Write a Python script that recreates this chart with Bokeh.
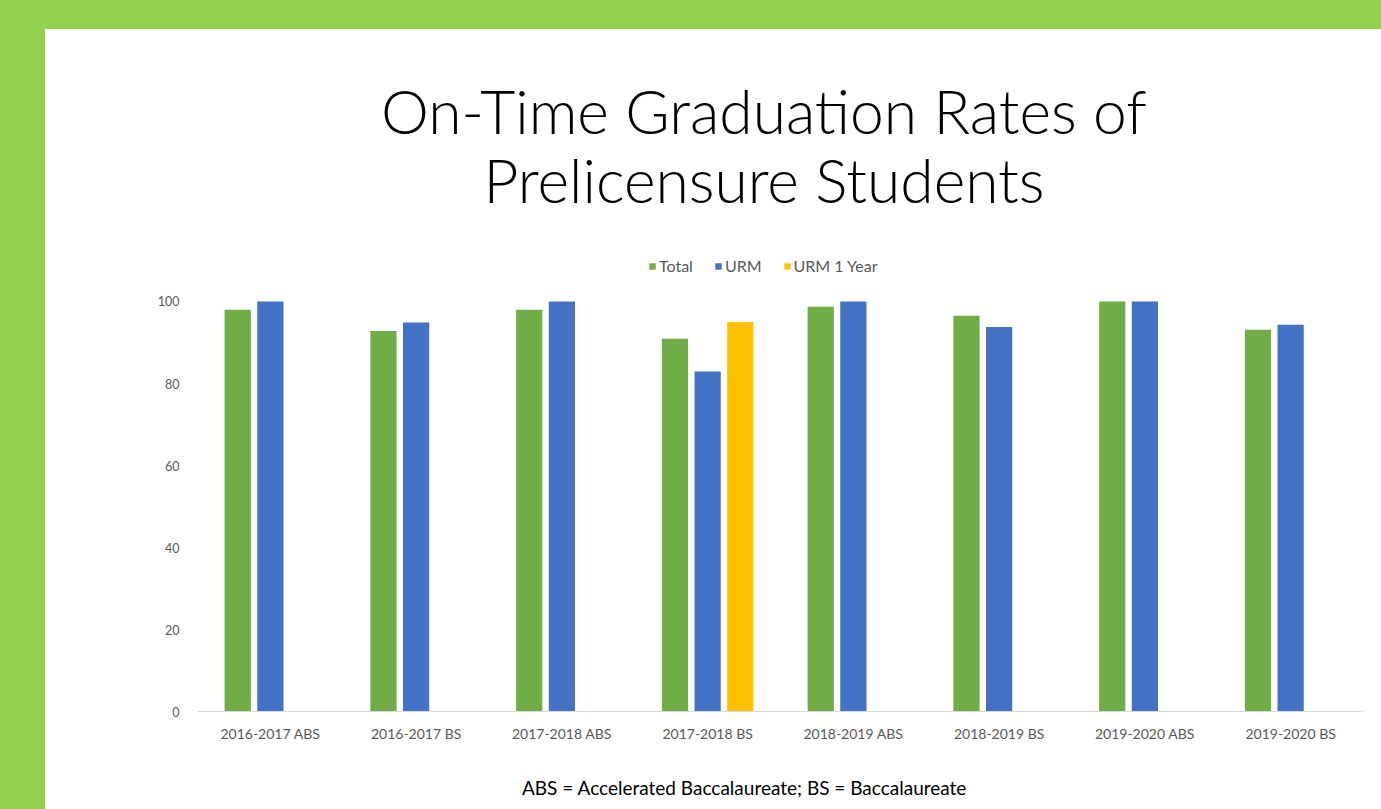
from bokeh.plotting import figure
from bokeh.models import (FactorRange, Range1d, FixedTicker, Legend, LegendItem,
                          Label, Spacer, ColumnDataSource)
from bokeh.transform import dodge
from bokeh.layouts import row, column
from bokeh.embed import file_html
from bokeh.resources import INLINE

# ---------------- data ----------------
categories = ["2016-2017 ABS", "2016-2017 BS", "2017-2018 ABS", "2017-2018 BS",
              "2018-2019 ABS", "2018-2019 BS", "2019-2020 ABS", "2019-2020 BS"]
total = [98.0, 92.8, 98.0, 90.9, 98.7, 96.5, 100.0, 93.1]
urm = [100.0, 94.9, 100.0, 82.9, 100.0, 93.8, 100.0, 94.3]
urm_1_year = [None, None, None, 95.0, None, None, None, None]
series_names = ["Total", "URM", "URM 1 Year"]
y_ticks = [0, 20, 40, 60, 80, 100]

title_line1 = "On-Time Graduation Rates of"
title_line2 = "Prelicensure Students"
footnote = "ABS = Accelerated Baccalaureate; BS = Baccalaureate"

# ---------------- style ----------------
FONT = "Lato"
TITLE_FONT = "'Lato Light', Lato"
GREEN = "#70AD47"
BLUE = "#4472C4"
YELLOW = "#FFC000"
TEXT_GRAY = "#595959"
BG_GREEN = "#92D050"

# The (invisible) plotting frame covers the whole white panel height; the
# category axis is pinned at y=0 so titles and footnote sit inside the frame.
Y_TOP = 166.34
Y_BOTTOM = -23.9

p = figure(width=1336, height=780,
           x_range=FactorRange(*categories), y_range=Range1d(Y_BOTTOM, Y_TOP),
           output_backend="svg", toolbar_location=None,
           min_border_left=152, min_border_right=18,
           min_border_top=0, min_border_bottom=0,
           outline_line_color=None,
           background_fill_color="white", border_fill_color="white")
p.x_range.range_padding = 0
p.xgrid.grid_line_color = None
p.ygrid.grid_line_color = None

src_total = ColumnDataSource(dict(cat=categories, val=total))
src_urm = ColumnDataSource(dict(cat=categories, val=urm))
u1_cats = [c for c, v in zip(categories, urm_1_year) if v is not None]
u1_vals = [v for v in urm_1_year if v is not None]
src_u1 = ColumnDataSource(dict(cat=u1_cats, val=u1_vals))

W = 0.18
D = 0.224
r1 = p.vbar(x=dodge("cat", -D, range=p.x_range), top="val", bottom=0, width=W,
            source=src_total, fill_color=GREEN, line_color=None)
r2 = p.vbar(x=dodge("cat", 0.0, range=p.x_range), top="val", bottom=0, width=W,
            source=src_urm, fill_color=BLUE, line_color=None)
r3 = p.vbar(x=dodge("cat", D, range=p.x_range), top="val", bottom=0, width=W,
            source=src_u1, fill_color=YELLOW, line_color=None)

# axes
p.yaxis.ticker = FixedTicker(ticks=y_ticks)
p.yaxis.axis_line_color = None
p.yaxis.major_tick_line_color = None
p.yaxis.minor_tick_line_color = None
p.yaxis.major_tick_out = 0
p.yaxis.major_label_standoff = 18
p.yaxis.major_label_text_font = FONT
p.yaxis.major_label_text_font_size = "12.5px"
p.yaxis.major_label_text_color = TEXT_GRAY

p.xaxis.fixed_location = 0
p.xaxis.axis_line_color = "#D9D9D9"
p.xaxis.axis_line_width = 1
p.xaxis.major_tick_line_color = None
p.xaxis.minor_tick_line_color = None
p.xaxis.major_tick_out = 0
p.xaxis.major_label_standoff = 13
p.xaxis.major_label_text_font = FONT
p.xaxis.major_label_text_font_size = "14px"
p.xaxis.major_label_text_color = TEXT_GRAY

# legend
legend = Legend(items=[LegendItem(label=series_names[0], renderers=[r1]),
                       LegendItem(label=series_names[1], renderers=[r2]),
                       LegendItem(label=series_names[2], renderers=[r3])],
                orientation="horizontal", location=(451, 534),
                border_line_color=None, background_fill_alpha=0,
                padding=0, margin=0, spacing=21,
                glyph_width=8, glyph_height=8, label_standoff=3,
                label_height=16,
                label_text_font=FONT, label_text_font_size="16px",
                label_text_color=TEXT_GRAY)
p.add_layout(legend, "center")

# title lines (centred a little left of the frame centre, as in the slide)
TITLE_X = 3.887
p.add_layout(Label(x=TITLE_X, y=146.6, text=title_line1, text_align="center",
                   text_baseline="alphabetic", text_font=TITLE_FONT,
                   text_font_size="60.5px", text_color="#000000"))
p.add_layout(Label(x=TITLE_X, y=129.8, text=title_line2, text_align="center",
                   text_baseline="alphabetic", text_font=TITLE_FONT,
                   text_font_size="60.5px", text_color="#000000"))

# footnote below the category labels
p.add_layout(Label(x=3.753, y=-18.5, text=footnote, text_align="center",
                   text_baseline="middle", text_font=FONT,
                   text_font_size="19px", text_color="#000000"))

layout = column(Spacer(height=29, width=1381, styles={"background-color": BG_GREEN}),
                row(Spacer(width=45, height=780, styles={"background-color": BG_GREEN}), p))

html = file_html(layout, INLINE)
open("out.html", "w").write(html)
